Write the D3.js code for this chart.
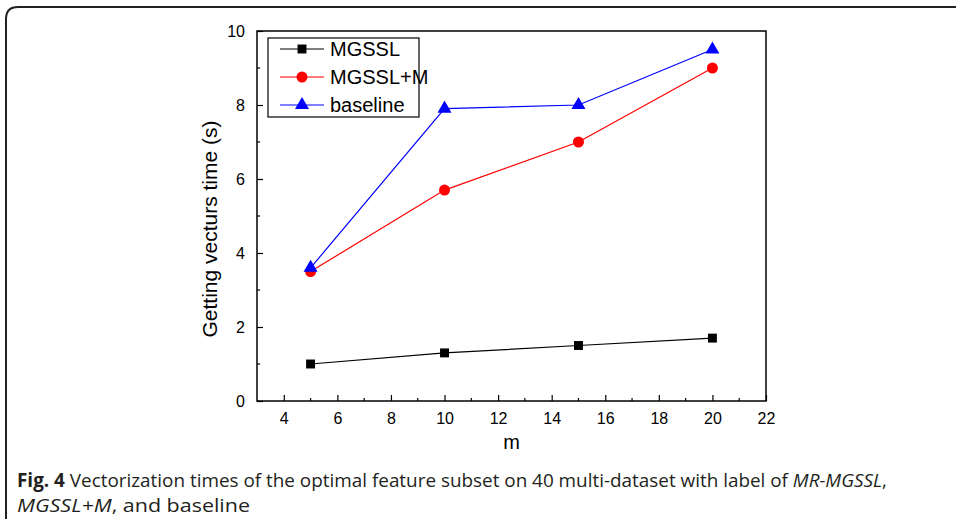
<!DOCTYPE html>
<html>
<head>
<meta charset="utf-8">
<script src="https://cdn.jsdelivr.net/npm/d3@7"></script>
<style>
  body { margin: 0; background: #fff; }
  svg { display: block; }
</style>
</head>
<body>
<script>
// data
var mValues = [5, 10, 15, 20];
var mgssl = [1.0, 1.3, 1.5, 1.7];
var mgsslM = [3.5, 5.7, 7.0, 9.0];
var baseline = [3.6, 7.9, 8.0, 9.5];
var seriesNames = ["MGSSL", "MGSSL+M", "baseline"];
var xTicks = [4, 6, 8, 10, 12, 14, 16, 18, 20, 22];
var yTicks = [0, 2, 4, 6, 8, 10];

var width = 956, height = 519;
var axisFont = "Liberation Sans, Arial, sans-serif";

var svg = d3.select("body").append("svg")
  .attr("width", width)
  .attr("height", height);

// outer figure frame (rounded corner, runs off the right/bottom edge)
svg.append("path")
  .attr("d", "M6,519 L6,19 Q6,7 18,7 L960,7")
  .attr("fill", "none")
  .attr("stroke", "#222")
  .attr("stroke-width", 2);

var x = d3.scaleLinear().domain([3, 22]).range([257, 766]);
var y = d3.scaleLinear().domain([0, 10]).range([401, 31]);

var g = svg.append("g");

// plot frame
g.append("rect")
  .attr("x", x(3)).attr("y", y(10))
  .attr("width", x(22) - x(3)).attr("height", y(0) - y(10))
  .attr("fill", "none").attr("stroke", "#000").attr("stroke-width", 1.5);

// major ticks point inward
var xAxis = d3.axisBottom(x).tickValues(xTicks).tickSize(-6).tickPadding(12);
var xg = g.append("g").attr("transform", "translate(0," + y(0) + ")").call(xAxis);
var yAxis = d3.axisLeft(y).tickValues(yTicks).tickSize(-6).tickPadding(12);
var yg = g.append("g").attr("transform", "translate(" + x(3) + ",0)").call(yAxis);

[xg, yg].forEach(function(a) {
  a.select(".domain").remove();
  a.selectAll("line").attr("stroke", "#000").attr("stroke-width", 1.2);
  a.selectAll("text").attr("font-family", axisFont)
    .attr("font-size", 16).attr("fill", "#000");
});

// minor ticks
g.selectAll(".xminor").data(d3.range(5, 22, 2)).enter().append("line")
  .attr("x1", function(d) { return x(d); }).attr("x2", function(d) { return x(d); })
  .attr("y1", y(0)).attr("y2", y(0) - 3)
  .attr("stroke", "#000").attr("stroke-width", 1.2);
g.selectAll(".yminor").data(d3.range(1, 10, 2)).enter().append("line")
  .attr("y1", function(d) { return y(d); }).attr("y2", function(d) { return y(d); })
  .attr("x1", x(3)).attr("x2", x(3) + 3)
  .attr("stroke", "#000").attr("stroke-width", 1.2);

// axis titles
svg.append("text")
  .attr("x", (x(3) + x(22)) / 2).attr("y", 449)
  .attr("text-anchor", "middle")
  .attr("font-family", axisFont).attr("font-size", 20)
  .text("m");
svg.append("text")
  .attr("transform", "translate(217,229) rotate(-90)")
  .attr("text-anchor", "middle")
  .attr("font-family", axisFont).attr("font-size", 21)
  .text("Getting vecturs time (s)");

var series = [
  { name: seriesNames[0], values: mgssl, color: "#000", shape: d3.symbolSquare, size: 80 },
  { name: seriesNames[1], values: mgsslM, color: "#ff0000", shape: d3.symbolCircle, size: 95 },
  { name: seriesNames[2], values: baseline, color: "#0000ff", shape: d3.symbolTriangle, size: 85 }
];

var line = d3.line()
  .x(function(d, i) { return x(mValues[i]); })
  .y(function(d) { return y(d); });

series.forEach(function(s) {
  g.append("path")
    .datum(s.values)
    .attr("d", line)
    .attr("fill", "none")
    .attr("stroke", s.color)
    .attr("stroke-width", 1.2);
  g.selectAll(null).data(s.values).enter().append("path")
    .attr("transform", function(d, i) { return "translate(" + x(mValues[i]) + "," + y(d) + ")"; })
    .attr("d", d3.symbol().type(s.shape).size(s.size))
    .attr("fill", s.color);
});

// legend
var leg = svg.append("g");
leg.append("rect")
  .attr("x", 268).attr("y", 38).attr("width", 151).attr("height", 79)
  .attr("fill", "#fff").attr("stroke", "#000").attr("stroke-width", 1.2);
series.forEach(function(s, i) {
  var ly = 49 + i * 28;
  leg.append("line")
    .attr("x1", 280).attr("x2", 324).attr("y1", ly).attr("y2", ly)
    .attr("stroke", s.color).attr("stroke-width", 1.2);
  leg.append("path")
    .attr("transform", "translate(302," + ly + ")")
    .attr("d", d3.symbol().type(s.shape).size(s.size))
    .attr("fill", s.color);
  leg.append("text")
    .attr("x", 330).attr("y", ly + 7)
    .attr("font-family", axisFont).attr("font-size", 20)
    .text(s.name);
});

// caption, two lines
var capFont = "Open Sans, sans-serif";
var c1 = svg.append("text")
  .attr("x", 17).attr("y", 487)
  .attr("font-family", capFont).attr("font-size", 19).attr("fill", "#231f20")
  .attr("textLength", 870).attr("lengthAdjust", "spacingAndGlyphs");
c1.append("tspan").attr("font-weight", "bold").text("Fig. 4");
c1.append("tspan").text(" Vectorization times of the optimal feature subset on 40 multi-dataset with label of ");
c1.append("tspan").attr("font-style", "italic").text("MR-MGSSL");
c1.append("tspan").text(",");
var c2 = svg.append("text")
  .attr("x", 17).attr("y", 512)
  .attr("font-family", capFont).attr("font-size", 19).attr("fill", "#231f20")
  .attr("textLength", 233).attr("lengthAdjust", "spacingAndGlyphs");
c2.append("tspan").attr("font-style", "italic").text("MGSSL+M");
c2.append("tspan").text(", and baseline");
</script>
</body>
</html>
